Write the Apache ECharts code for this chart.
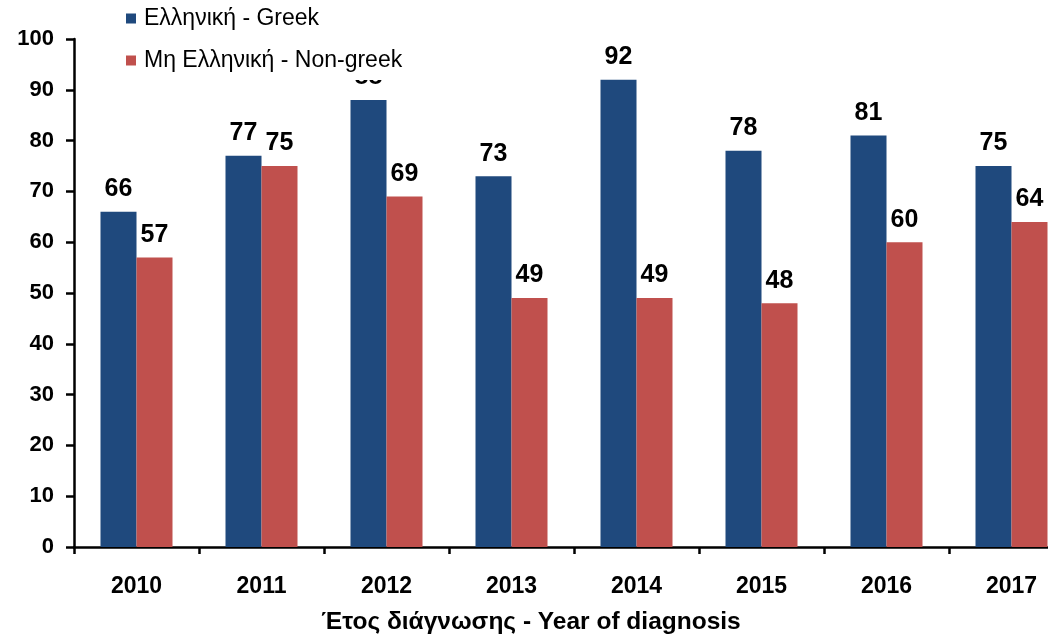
<!DOCTYPE html>
<html><head><meta charset="utf-8">
<script src="https://cdn.jsdelivr.net/npm/echarts@6/dist/echarts.min.js"></script>
<style>html,body{margin:0;padding:0;background:#fff;overflow:hidden}#c{width:1074px;height:641px}</style>
</head><body><div id="c"></div>
<script>
const categories = ['2010','2011','2012','2013','2014','2015','2016','2017'];
const greek = [66,77,88,73,92,78,81,75];
const nonGreek = [57,75,69,49,49,48,60,64];
const seriesNames = ['Ελληνική - Greek','Μη Ελληνική - Non-greek'];
const xTitle = 'Έτος διάγνωσης - Year of diagnosis';

const FONT = 'Liberation Sans, Arial, sans-serif';
const chart = echarts.init(document.getElementById('c'));
const lbl = {show:true, position:'top', distance:10, color:'#000', fontSize:25, fontWeight:'bold', fontFamily:FONT};
chart.setOption({
  animation:false,
  grid:{left:74, right:0, top:39, bottom:94, containLabel:false},
  legend:{
    orient:'vertical', left:118, top:0, itemWidth:10, itemHeight:10, itemGap:19,
    backgroundColor:'#fff', padding:[7,10,8,8], z:10,
    icon:'rect', itemStyle:{borderWidth:0},
    textStyle:{fontSize:23, fontFamily:FONT, color:'#000', padding:[0,0,0,3]}
  },
  xAxis:{
    type:'category', data:categories,
    axisLine:{lineStyle:{color:'#000', width:2.5}},
    axisTick:{show:true, length:7, lineStyle:{color:'#000', width:2.5}},
    axisLabel:{margin:28, fontSize:23, fontWeight:'bold', color:'#000', fontFamily:FONT}
  },
  yAxis:{
    type:'value', min:0, max:100, interval:10,
    splitLine:{show:false},
    axisLine:{show:true, lineStyle:{color:'#000', width:2.5}},
    axisTick:{show:true, length:8, lineStyle:{color:'#000', width:2.5}},
    axisLabel:{margin:20, fontSize:22, fontWeight:'bold', color:'#000', fontFamily:FONT}
  },
  graphic:[{type:'text', x:531, y:622, style:{text:xTitle, align:'center', verticalAlign:'middle', fontSize:24.5, fontWeight:'bold', fill:'#000', fontFamily:FONT}}],
  series:[
    {name:seriesNames[0], type:'bar', data:greek, barWidth:36, barGap:'0%', itemStyle:{color:'#1F497D'}, label:lbl},
    {name:seriesNames[1], type:'bar', data:nonGreek, barWidth:36, itemStyle:{color:'#C0504D'}, label:lbl}
  ]
});
</script></body></html>
